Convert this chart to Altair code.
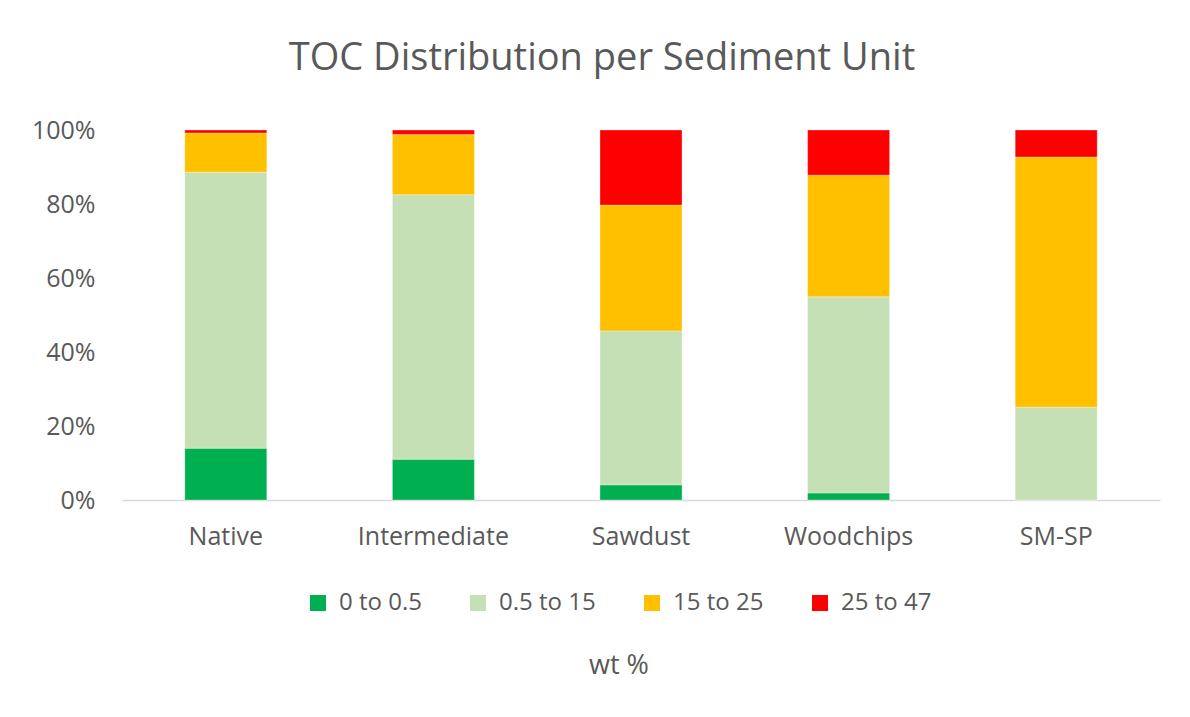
import altair as alt
import pandas as pd

units = ["Native", "Intermediate", "Sawdust", "Woodchips", "SM-SP"]
series = ["0 to 0.5", "0.5 to 15", "15 to 25", "25 to 47"]
colors = ["#00B050", "#C5E0B4", "#FFC000", "#FF0000"]

v_0_05 = [14.0, 11.0, 4.1, 1.9, 0.0]
v_05_15 = [74.6, 71.5, 41.6, 53.0, 25.1]
v_15_25 = [10.6, 16.3, 34.0, 32.9, 67.6]
v_25_47 = [0.8, 1.2, 20.3, 12.2, 7.3]

rows = []
for i, u in enumerate(units):
    for k, (s, vals) in enumerate(zip(series, [v_0_05, v_05_15, v_15_25, v_25_47])):
        rows.append({"unit": u, "range": s, "order": k, "value": vals[i]})
df = pd.DataFrame(rows)

font = "Open Sans"
grey = "#595959"

chart = alt.Chart(df).mark_bar(stroke="white", strokeWidth=0.5, strokeOpacity=0.6).encode(
    x=alt.X("unit:N", sort=units, title=None,
            scale=alt.Scale(paddingInner=0.605, paddingOuter=0.3025),
            axis=alt.Axis(labelAngle=0, labelFontSize=25, labelColor=grey, labelFont=font,
                          ticks=False, domainColor="#D9D9D9", domainWidth=1.5, labelPadding=24)),
    y=alt.Y("value:Q", stack="normalize", title=None,
            scale=alt.Scale(domain=[0, 1]),
            axis=alt.Axis(format=".0%", values=[0, 0.2, 0.4, 0.6, 0.8, 1.0], grid=False,
                          domain=False, ticks=False, labelFontSize=25, labelColor=grey,
                          labelFont=font, labelPadding=27)),
    color=alt.Color("range:N", sort=series, scale=alt.Scale(domain=series, range=colors),
                    legend=alt.Legend(title="wt %", orient="none", legendX=184, legendY=461,
                                      direction="horizontal", titleOrient="bottom",
                                      titleAnchor="middle", titleFontSize=27, titleColor=grey,
                                      titleFont=font, titleFontWeight="normal", titlePadding=38,
                                      labelFontSize=24, labelColor=grey, labelFont=font,
                                      symbolType="square", symbolSize=256, symbolStrokeWidth=0,
                                      columnPadding=44, labelOffset=9)),
    order=alt.Order("order:Q", sort="ascending"),
).properties(
    width=1038, height=370,
    autosize=alt.AutoSizeParams(type="none"),
    padding={"left": 114, "top": 122, "right": 22, "bottom": 208},
    title=alt.TitleParams("TOC Distribution per Sediment Unit", fontSize=38, font=font,
                          color=grey, fontWeight="normal", anchor="middle", offset=40, dx=-39),
).configure(background="white").configure_view(stroke=None)

chart.save("out.html", embed_options={"renderer": "svg", "actions": False})
